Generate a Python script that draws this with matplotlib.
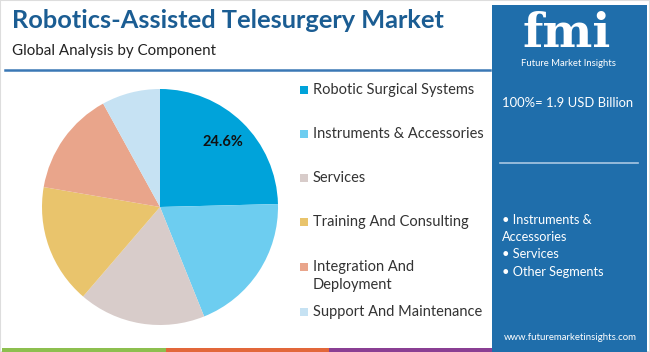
import matplotlib.pyplot as plt
from matplotlib.patches import Rectangle
from matplotlib.lines import Line2D

# ======================================================
# DATA
# ======================================================
TITLE = "Robotics-Assisted Telesurgery Market"
SUBTITLE = "Global Analysis by Component"
components = [
    "Robotic Surgical Systems",
    "Instruments & Accessories",
    "Services",
    "Training And Consulting",
    "Integration And\nDeployment",
    "Support And Maintenance",
]
shares = [24.6, 19.3, 17.4, 16.4, 14.3, 8.0]
colors = ["#00a3da", "#6dcdf0", "#d8ccca", "#e9c46c", "#e9a58b", "#c6e2f3"]
legend_y = [90, 134, 178, 222, 276, 312]
market_size = "100%= 1.9 USD Billion"
key_segments = ["• Instruments &", "Accessories", "• Services", "• Other Segments"]
segment_y = [220, 237, 254, 272]

W, H = 650, 352
PANEL = "#1f6eab"
TITLE_C = "#1b5d93"
FONT = "Lato"

plt.rcParams["font.family"] = [FONT, "DejaVu Sans"]

fig = plt.figure(figsize=(W / 100, H / 100), dpi=100)


def fx(x):
    return x / W


def fy(y):
    return 1 - y / H


# border
fig.patches.append(Rectangle((0, 0), 1, 1, transform=fig.transFigure,
                             fill=False, edgecolor="#dddddd", lw=1.5))

# ======================================================
# HEADER
# ======================================================
fig.text(fx(12), fy(21), TITLE, fontsize=18.3, fontweight="bold",
         color=TITLE_C, va="center", ha="left")
fig.text(fx(12), fy(51), SUBTITLE, fontsize=10.9, color="#222222",
         va="center", ha="left")
fig.lines.append(Line2D([fx(5), fx(490)], [fy(70), fy(70)],
                        transform=fig.transFigure, color="#3a78b5", lw=1.8))

# bottom stripe
for x0, x1, c in [(2, 166, "#8dbf4f"), (166, 329, "#e2673a"), (329, 492, "#8a3f93")]:
    fig.patches.append(Rectangle((fx(x0), 0), fx(x1 - x0), 4 / H,
                                 transform=fig.transFigure, color=c, lw=0))

# ======================================================
# PIE
# ======================================================
ax = fig.add_axes([fx(42), fy(325), fx(236), 236 / H])
ax.pie(shares, colors=colors, startangle=90, counterclock=False,
       autopct=lambda p: f"{p:.1f}%" if p > 24 else "", pctdistance=0.77,
       textprops=dict(fontsize=10.5, fontweight="bold", color="#111111"),
       wedgeprops=dict(linewidth=0))
ax.set_xlim(-1, 1)
ax.set_ylim(-1, 1)
ax.set_aspect("equal")
ax.axis("off")

# legend
for name, col, y in zip(components, colors, legend_y):
    top = y if "\n" not in name else y - 9
    fig.patches.append(Rectangle((fx(300), fy(top + 4)), fx(8), 8 / H,
                                 transform=fig.transFigure, color=col, lw=0))
    fig.text(fx(313), fy(y), name, fontsize=10.5, color="#333333",
             va="center", ha="left", linespacing=1.35)

# ======================================================
# RIGHT PANEL
# ======================================================
fig.patches.append(Rectangle((fx(492), 0), fx(155), fy(5),
                             transform=fig.transFigure, color=PANEL, lw=0))

# logo
fig.text(fx(567), fy(47), "fmi", fontsize=34, fontweight="bold", color="white",
         ha="center", va="baseline", family="DejaVu Serif")
for yy in range(21, 48, 3):
    fig.lines.append(Line2D([fx(512), fx(625)], [fy(yy), fy(yy)],
                            transform=fig.transFigure, color=PANEL, lw=0.6))
fig.text(fx(568), fy(63), "Future Market Insights", fontsize=6.8, color="white",
         ha="center", va="center")

fig.text(fx(502), fy(103), market_size, fontsize=9.4, color="white",
         ha="left", va="center")
fig.lines.append(Line2D([fx(500), fx(638)], [fy(163), fy(163)],
                        transform=fig.transFigure, color="#a9c8e3", lw=1.2))
for s, y in zip(key_segments, segment_y):
    fig.text(fx(502), fy(y), s, fontsize=9.2, color="white", ha="left", va="center")
fig.text(fx(570), fy(337), "www.futuremarketinsights.com", fontsize=6.9,
         color="white", ha="center", va="center")

fig.savefig("out.png", dpi=100)
